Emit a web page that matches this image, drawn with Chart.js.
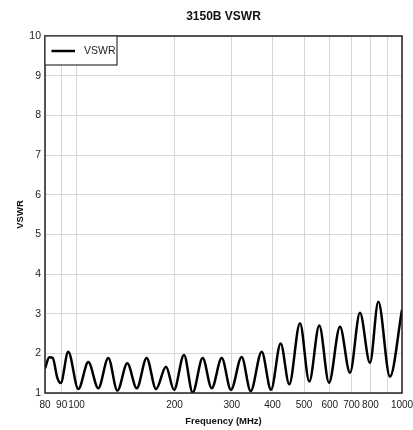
<!DOCTYPE html>
<html><head><meta charset="utf-8">
<script src="https://cdn.jsdelivr.net/npm/chart.js@4.4.0/dist/chart.umd.min.js"></script>
<style>html,body{margin:0;padding:0;background:#fff;} #wrap{width:413px;height:430px;position:relative;}</style>
</head><body><div id="wrap"><canvas id="c"></canvas></div>
<script>
const chartTitle = '3150B VSWR';
const xTitle = 'Frequency (MHz)';
const yTitle = 'VSWR';
const seriesName = 'VSWR';
const frequencies = [80, 82.5, 84.5, 87.3, 89.4, 94.3, 101.3, 108.7, 116.6, 125.2, 133.5, 143.2, 153.1, 164.2, 175.5, 188.3, 199.3, 213.9, 227.4, 244.1, 260.2, 279.3, 298.2, 321.6, 342.8, 370.6, 395.8, 423.8, 450.4, 485.8, 518.9, 557.0, 596.6, 644.8, 692.0, 742.7, 797.2, 845.6, 918.3, 1000];
const vswrValues = [1.62, 1.90, 1.88, 1.38, 1.25, 2.04, 1.10, 1.78, 1.12, 1.88, 1.06, 1.75, 1.12, 1.88, 1.10, 1.66, 1.08, 1.96, 1.01, 1.88, 1.12, 1.88, 1.08, 1.91, 1.05, 2.04, 1.08, 2.25, 1.22, 2.76, 1.29, 2.70, 1.26, 2.67, 1.51, 3.02, 1.76, 3.30, 1.41, 3.10];
const xTickValues = [80, 90, 100, 200, 300, 400, 500, 600, 700, 800, 900, 1000];
const xTickLabels = ['80', '90', '100', '200', '300', '400', '500', '600', '700', '800', '', '1000'];
const yTickValues = [1, 2, 3, 4, 5, 6, 7, 8, 9, 10];

const SANS = "'Liberation Sans', Arial, sans-serif";

const points = frequencies.map((f, i) => ({x: f, y: vswrValues[i]}));

const framePlugin = {
  id: 'frameLegend',
  afterDatasetsDraw(chart) {
    const {ctx, chartArea: a} = chart;
    ctx.save();
    ctx.strokeStyle = '#222';
    ctx.lineWidth = 1.5;
    ctx.strokeRect(a.left, a.top, a.right - a.left, a.bottom - a.top);
    const lx = a.left, ly = a.top, lw = 72, lh = 29;
    ctx.fillStyle = '#fff';
    ctx.fillRect(lx, ly, lw, lh);
    ctx.lineWidth = 1.2;
    ctx.strokeStyle = '#333';
    ctx.strokeRect(lx, ly, lw, lh);
    ctx.strokeStyle = '#000';
    ctx.lineWidth = 2.5;
    ctx.beginPath();
    ctx.moveTo(lx + 6.5, ly + 15);
    ctx.lineTo(lx + 30, ly + 15);
    ctx.stroke();
    ctx.fillStyle = '#222';
    ctx.font = '10.5px ' + SANS;
    ctx.textBaseline = 'middle';
    ctx.textAlign = 'left';
    ctx.fillText(seriesName, lx + 39, ly + 15.5);
    ctx.restore();
  }
};

new Chart(document.getElementById('c'), {
  type: 'line',
  data: {
    datasets: [{
      label: seriesName,
      data: points,
      borderColor: '#000',
      borderWidth: 2.5,
      pointRadius: 0,
      fill: false,
      cubicInterpolationMode: 'monotone'
    }]
  },
  options: {
    responsive: true,
    maintainAspectRatio: false,
    animation: false,
    layout: {padding: {left: 0, right: 11, top: 0, bottom: 0}},
    plugins: {
      legend: {display: false},
      tooltip: {enabled: false},
      title: {
        display: true,
        text: chartTitle,
        fullSize: false,
        color: '#111',
        font: {family: SANS, size: 12, weight: 'bold'},
        padding: {top: 9, bottom: 12.6}
      }
    },
    scales: {
      x: {
        type: 'logarithmic',
        min: 80,
        max: 1000,
        afterBuildTicks(scale) { scale.ticks = xTickValues.map(v => ({value: v})); },
        afterFit(scale) { scale.height = 37; scale.paddingLeft = 0; scale.paddingRight = 0; },
        ticks: {
          autoSkip: false,
          maxRotation: 0,
          padding: 6,
          color: '#222',
          font: {family: SANS, size: 10},
          callback: (v, i) => xTickLabels[i]
        },
        grid: {color: '#d6d6d6', lineWidth: 1, drawTicks: false},
        border: {display: false},
        title: {
          display: true,
          text: xTitle,
          color: '#111',
          font: {family: SANS, size: 9.5, weight: 'bold'},
          padding: {top: 0, bottom: 3}
        }
      },
      y: {
        type: 'linear',
        min: 1,
        max: 10,
        afterBuildTicks(scale) { scale.ticks = yTickValues.map(v => ({value: v})); },
        afterFit(scale) { scale.width = 45; scale.paddingTop = 0; scale.paddingBottom = 0; },
        ticks: {
          padding: 4,
          color: '#222',
          font: {family: SANS, size: 10.5}
        },
        grid: {color: '#d6d6d6', lineWidth: 1, drawTicks: false},
        border: {display: false},
        title: {
          display: true,
          text: yTitle,
          color: '#111',
          font: {family: SANS, size: 9.5, weight: 'bold'},
          padding: {top: 15, bottom: 0}
        }
      }
    }
  },
  plugins: [framePlugin]
});
</script>
</body></html>
